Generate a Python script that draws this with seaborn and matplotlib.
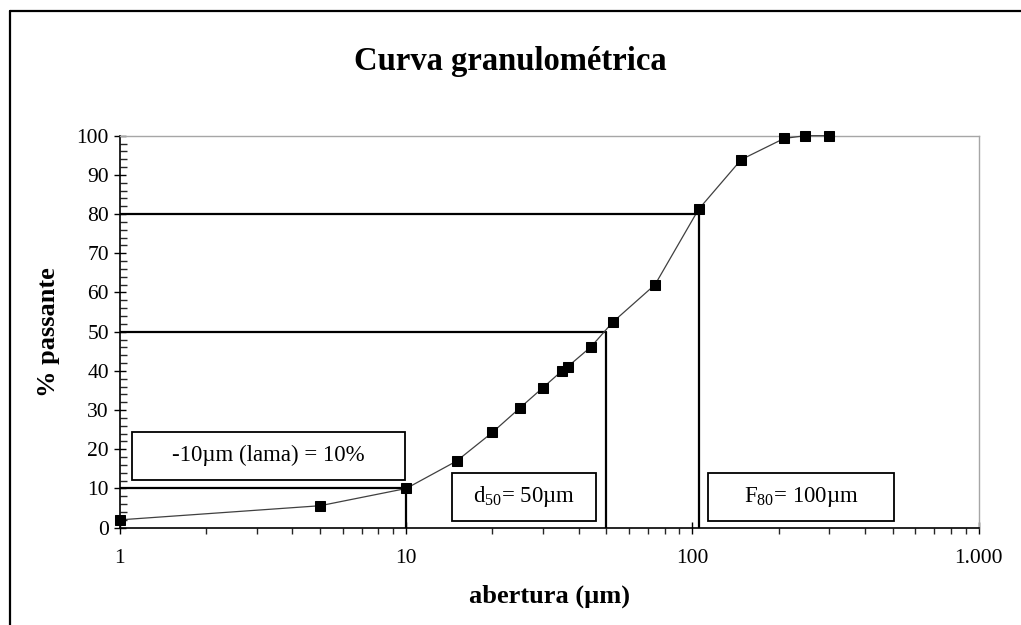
import numpy as np
import pandas as pd
import matplotlib
matplotlib.use("Agg")
from matplotlib import pyplot as plt
from matplotlib.patches import Rectangle
from matplotlib.lines import Line2D
from matplotlib.ticker import FixedLocator, FixedFormatter, LogLocator, NullFormatter, MultipleLocator
import seaborn as sns

# ---------------- data ----------------
abertura = [1, 5, 10, 15, 20, 25, 30, 35, 36.7, 44.3, 52.6, 74, 105, 148, 209, 248, 299]
passante = [2, 5.6, 10, 17, 24.3, 30.6, 35.7, 40, 41.1, 46.2, 52.4, 62, 81.2, 93.9, 99.3, 100, 100]
x_ticks = [1, 10, 100, 1000]
x_tick_labels = ["1", "10", "100", "1.000"]
lama_size, lama_pct = 10, 10
d50_size, d50_pct = 50, 50
f80_size, f80_pct = 105, 80

df = pd.DataFrame({"abertura": abertura, "passante": passante})

sns.set_style("white")
plt.rcParams["font.family"] = ["Liberation Serif", "DejaVu Serif"]
plt.rcParams["mathtext.fontset"] = "custom"
plt.rcParams["mathtext.rm"] = "Liberation Serif"
plt.rcParams["mathtext.it"] = "Liberation Serif:italic"
plt.rcParams["mathtext.bf"] = "Liberation Serif:bold"
plt.rcParams["text.color"] = "black"

fig = plt.figure(figsize=(10.21, 6.25), dpi=100)
ax = fig.add_axes([0.1175, 0.1557, 0.9586 - 0.1175, 0.7829 - 0.1557])

# outer frame of the chart area (left and top edges visible)
fig.add_artist(Line2D([0.0098, 0.0098], [-0.1, 0.9824], transform=fig.transFigure, color="black", lw=1.6))
fig.add_artist(Line2D([0.0098, 1.1], [0.9824, 0.9824], transform=fig.transFigure, color="black", lw=1.6))

# reference lines
ax.plot([1, lama_size], [lama_pct, lama_pct], color="black", lw=1.6, zorder=2)
ax.plot([lama_size, lama_size], [0, lama_pct], color="black", lw=1.6, zorder=2)
ax.plot([1, d50_size], [d50_pct, d50_pct], color="black", lw=1.6, zorder=2)
ax.plot([d50_size, d50_size], [0, d50_pct], color="black", lw=1.6, zorder=2)
ax.plot([1, f80_size], [f80_pct, f80_pct], color="black", lw=1.6, zorder=2)
ax.plot([f80_size, f80_size], [0, f80_pct], color="black", lw=1.6, zorder=2)

sns.lineplot(data=df, x="abertura", y="passante", ax=ax, color="#404040", lw=0.9,
             marker="s", markersize=7.5, markerfacecolor="black", markeredgecolor="black",
             zorder=3, clip_on=False)

ax.set_xscale("log")
ax.set_xlim(1, 1000)
ax.set_ylim(0, 100)

# text boxes
boxes = [
    ((1.104, 12.2), (9.87, 24.5), "-10\u00b5m (lama) = 10%"),
    ((14.5, 1.7), (46.1, 14.0), "d$_{\\mathrm{50}}$= 50\u00b5m"),
    ((113, 1.7), (507, 14.0), "F$_{\\mathrm{80}}$= 100\u00b5m"),
]
for (x0, y0), (x1, y1), label in boxes:
    ax.add_patch(Rectangle((x0, y0), x1 - x0, y1 - y0, fill=True, facecolor="white",
                           edgecolor="black", lw=1.3, zorder=4))
    ax.text(np.sqrt(x0 * x1), (y0 + y1) / 2, label, ha="center", va="center",
            fontsize=16.5, color="black", zorder=5)

# ticks
ax.xaxis.set_major_locator(FixedLocator(x_ticks))
ax.xaxis.set_major_formatter(FixedFormatter(x_tick_labels))
ax.xaxis.set_minor_locator(LogLocator(base=10, subs=np.arange(2, 10)))
ax.xaxis.set_minor_formatter(NullFormatter())
ax.yaxis.set_major_locator(MultipleLocator(10))
ax.yaxis.set_minor_locator(MultipleLocator(2))
ax.tick_params(axis="both", which="major", direction="inout", length=8, width=1,
               labelsize=15.5, colors="black", labelcolor="black", bottom=True, left=True)
ax.tick_params(axis="x", which="major", pad=11)
ax.tick_params(axis="y", which="major", pad=4)
ax.tick_params(axis="x", which="minor", direction="out", length=4, width=1, bottom=True)
ax.tick_params(axis="y", which="minor", direction="in", length=5, width=1, left=True)

for side in ["left", "bottom"]:
    ax.spines[side].set_color("black")
    ax.spines[side].set_linewidth(1.2)
for side in ["top", "right"]:
    ax.spines[side].set_color("#a6a6a6")
    ax.spines[side].set_linewidth(1.0)

ax.set_xlabel("abertura (\u00b5m)", fontsize=19, fontweight="bold", labelpad=12, color="black")
ax.set_ylabel("% passante", fontsize=19, fontweight="bold", labelpad=12, color="black")
fig.text(0.5, 0.902, "Curva granulométrica", ha="center", va="center",
         fontsize=23.5, fontweight="bold", color="black")

fig.savefig("out.png", dpi=100)
